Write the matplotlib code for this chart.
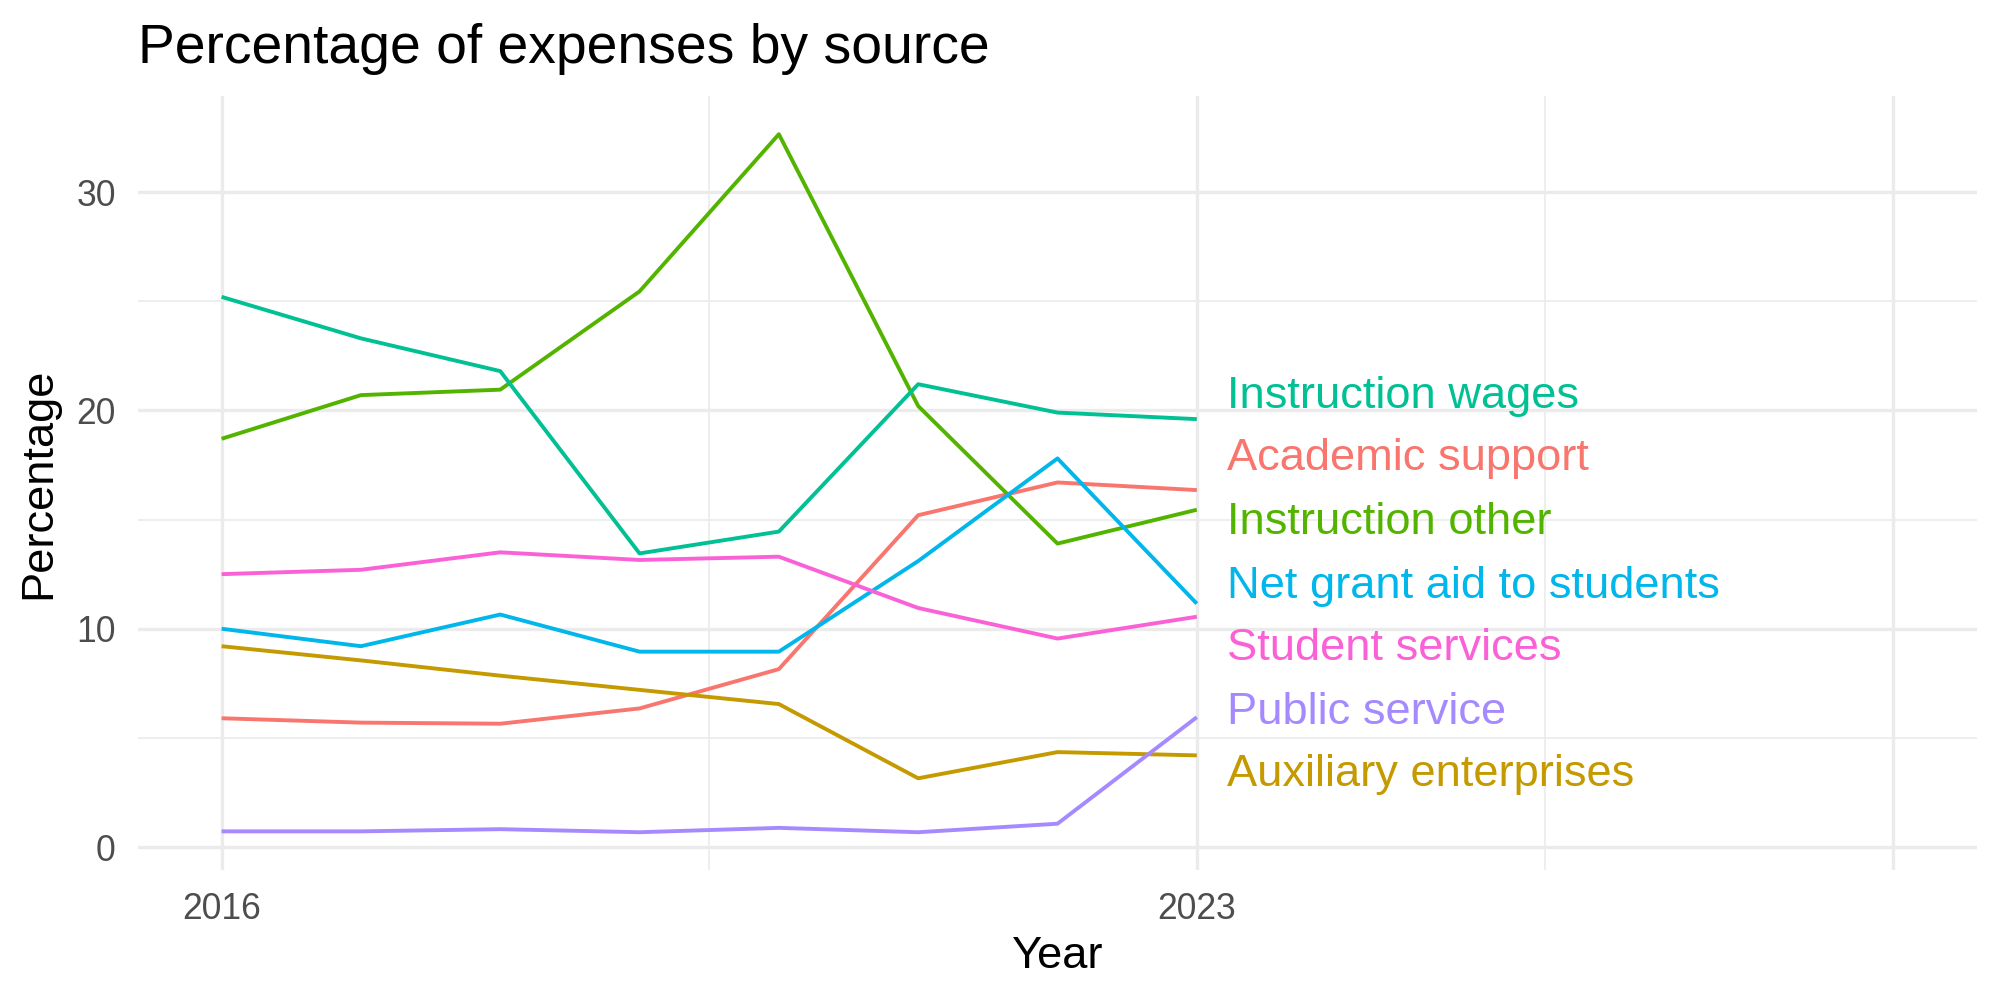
import matplotlib
matplotlib.use("Agg")
import matplotlib.pyplot as plt

plt.rcParams['font.family'] = ['Liberation Sans', 'DejaVu Sans']

years = [2016, 2017, 2018, 2019, 2020, 2021, 2022, 2023]

academic_support = [5.9, 5.7, 5.65, 6.35, 8.15, 15.2, 16.7, 16.35]
auxiliary = [9.2, 8.55, 7.85, 7.2, 6.55, 3.15, 4.35, 4.2]
instruction_other = [18.7, 20.7, 20.95, 25.45, 32.65, 20.2, 13.9, 15.45]
instruction_wages = [25.2, 23.3, 21.8, 13.45, 14.45, 21.2, 19.9, 19.6]
net_grant_aid = [10.0, 9.2, 10.65, 8.95, 8.95, 13.1, 17.8, 11.15]
public_service = [0.72, 0.72, 0.82, 0.68, 0.88, 0.68, 1.07, 5.95]
student_services = [12.5, 12.7, 13.5, 13.15, 13.3, 10.95, 9.55, 10.55]

names = ["Academic support", "Auxiliary enterprises", "Instruction other",
         "Instruction wages", "Net grant aid to students", "Public service",
         "Student services"]
series = [academic_support, auxiliary, instruction_other, instruction_wages,
          net_grant_aid, public_service, student_services]
colors = ["#F8766D", "#C49A00", "#53B400", "#00C094", "#00B6EB", "#A58AFF", "#FB61D7"]

# label baselines (top to bottom order)
label_order = ["Instruction wages", "Academic support", "Instruction other",
               "Net grant aid to students", "Student services", "Public service",
               "Auxiliary enterprises"]
label_y = [20.12, 17.25, 14.35, 11.43, 8.55, 5.65, 2.79]

fig = plt.figure(figsize=(10, 5), dpi=200)
ax = fig.add_axes([0.069, 0.13, 0.9195, 0.774])

for name, vals, col in zip(names, series, colors):
    ax.plot(years, vals, color=col, lw=1.4, solid_capstyle='butt', zorder=3)

for name, y in zip(label_order, label_y):
    col = colors[names.index(name)]
    ax.text(2023.22, y, name, color=col, fontsize=16.3, ha='left', va='baseline', zorder=4)

ax.set_xlim(2015.4, 2028.6)
ax.set_ylim(-1.05, 34.4)
ax.set_xticks([2016, 2023, 2028])
ax.set_xticklabels(["2016", "2023", ""])
ax.set_xticks([2019.5, 2025.5], minor=True)
ax.set_yticks([0, 10, 20, 30])
ax.set_yticks([5, 15, 25], minor=True)

ax.grid(True, which='major', color='#EBEBEB', lw=1.2)
ax.grid(True, which='minor', color='#EBEBEB', lw=0.6)
ax.set_axisbelow(True)
for s in ax.spines.values():
    s.set_visible(False)
ax.tick_params(which='both', length=0)
ax.tick_params(axis='x', labelsize=12.8, colors='#4D4D4D', pad=8)
ax.tick_params(axis='y', labelsize=12.8, colors='#4D4D4D', pad=8)

ax.set_xlabel("Year", fontsize=16.3, labelpad=3)
ax.set_ylabel("Percentage", fontsize=16.3, labelpad=6)
ax.set_title("Percentage of expenses by source", fontsize=19.9, loc='left', x=-0.0, pad=12)

fig.savefig("out.png", dpi=200, facecolor='white')
